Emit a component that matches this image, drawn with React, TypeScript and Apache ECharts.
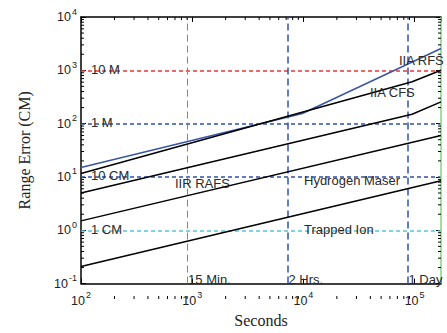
import React, { useEffect, useRef } from 'react';
import * as echarts from 'echarts';

const X_MIN = 100;
const X_MAX = 172800;
const Y_MIN = 0.1;
const Y_MAX = 10000;

const seriesNames = ['IIA RFS', 'IIA CFS', 'IIR RAFS', 'Hydrogen Maser', 'Trapped Ion'];
const iiaRfs = [[100, 15], [9800, 155], [172800, 2570]];
const iiaCfs = [[100, 11.6], [95000, 612], [172800, 1000]];
const iirRafs = [[100, 5.0], [95000, 150], [172800, 256]];
const hydrogenMaser = [[100, 1.5], [172800, 60]];
const trappedIon = [[100, 0.21], [172800, 8.5]];
const seriesData = [iiaRfs, iiaCfs, iirRafs, hydrogenMaser, trappedIon];
const seriesColors = ['#3a55a6', '#000000', '#000000', '#000000', '#000000'];
const seriesLabelPos = [[399, 60], [370, 92], [175, 183], [304, 180], [304, 229]];

const levelValues = [1000, 100, 10, 1];
const levelLabels = ['10 M', '1 M', '10 CM', '1 CM'];
const levelColors = ['#e8363b', '#3050a6', '#3050a6', '#55c6d6'];

const timeValues = [900, 7200, 86400];
const timeLabels = ['15 Min.', '2 Hrs.', '1 Day'];
const timeColors = ['#7085bd', '#3552a8', '#3552a8'];
const timeWidths = [1, 1.5, 1.5];
const edgeValue = 172800;

const GRID = { left: 81, top: 17, width: 360, height: 282 };
const SANS = '"Liberation Sans", Arial, sans-serif';
const SERIF = '"Liberation Serif", "Times New Roman", serif';

const fmt = (v: number) => {
  const l = Math.log10(v);
  const e = Math.round(l);
  if (Math.abs(l - e) > 1e-6) return '';
  return `{b|10}{s|${e}}`;
};

const rich = {
  b: { fontSize: 12.5, fontFamily: SANS, color: '#222', lineHeight: 20 },
  s: { fontSize: 9, fontFamily: SANS, color: '#222', verticalAlign: 'top', padding: [0, 0, 0, 1] },
};

export default function App() {
  const ref = useRef<HTMLDivElement>(null);
  useEffect(() => {
    if (!ref.current) return;
    const chart = echarts.init(ref.current, null, { renderer: 'svg' });
    const axisCommon = {
      type: 'log',
      logBase: 10,
      axisLine: { show: true, lineStyle: { color: '#000', width: 1.5 } },
      axisTick: { show: true, inside: true, length: 5, lineStyle: { color: '#000', width: 1 } },
      splitLine: { show: false },
    };
    const series: any[] = seriesData.map((d, i) => ({
      type: 'line',
      name: seriesNames[i],
      data: d,
      symbol: 'none',
      xAxisIndex: 0,
      yAxisIndex: 0,
      lineStyle: { color: seriesColors[i], width: 1.5 },
      z: 5,
    }));
    series.push({
      type: 'line',
      data: [],
      xAxisIndex: 0,
      yAxisIndex: 0,
      markLine: {
        silent: true,
        symbol: 'none',
        label: { show: false },
        data: [
          ...levelValues.map((v, i) => ({
            yAxis: v,
            lineStyle: { color: levelColors[i], type: [4, 3], width: 1.5 },
          })),
          ...timeValues.map((v, i) => ({
            xAxis: v,
            lineStyle: { color: timeColors[i], type: [7, 4], width: timeWidths[i] },
          })),
          { xAxis: edgeValue, lineStyle: { color: '#86d086', type: 'solid', width: 1.5 } },
        ],
      },
      z: 3,
    });
    chart.setOption({
      animation: false,
      grid: { ...GRID, containLabel: false },
      xAxis: [
        {
          ...axisCommon,
          min: X_MIN,
          max: X_MAX,
          position: 'bottom',
          name: 'Seconds',
          nameLocation: 'middle',
          nameGap: 16,
          nameTextStyle: { fontFamily: SERIF, fontSize: 16, color: '#222', verticalAlign: 'top' },
          axisLabel: { show: true, formatter: fmt, rich, margin: 7 },
        },
        {
          ...axisCommon,
          min: X_MIN,
          max: X_MAX,
          position: 'top',
          axisLabel: { show: false },
        },
      ],
      yAxis: [
        {
          ...axisCommon,
          min: Y_MIN,
          max: Y_MAX,
          position: 'left',
          name: 'Range Error (CM)',
          nameLocation: 'middle',
          nameGap: 49,
          nameTextStyle: { fontFamily: SERIF, fontSize: 16, color: '#222' },
          axisLabel: { show: true, formatter: fmt, rich, margin: 4 },
        },
        {
          ...axisCommon,
          min: Y_MIN,
          max: Y_MAX,
          position: 'right',
          axisLine: { show: false },
          axisLabel: { show: false },
        },
      ],
      series,
    });

    const g: any[] = [];
    const left = GRID.left;
    const right = GRID.left + GRID.width;
    const top = GRID.top;
    const bottom = GRID.top + GRID.height;
    const tickStyle = { stroke: '#000', lineWidth: 1 };
    for (let k = 2; k <= 5; k++) {
      for (let m = 2; m <= 9; m++) {
        const v = m * Math.pow(10, k);
        if (v > X_MAX) continue;
        const px = chart.convertToPixel({ xAxisIndex: 0 }, v) as number;
        g.push({ type: 'line', shape: { x1: px, y1: bottom, x2: px, y2: bottom - 3 }, style: tickStyle, z: 10 });
        g.push({ type: 'line', shape: { x1: px, y1: top, x2: px, y2: top + 3 }, style: tickStyle, z: 10 });
      }
    }
    for (let k = -1; k <= 3; k++) {
      for (let m = 2; m <= 9; m++) {
        const v = m * Math.pow(10, k);
        const py = chart.convertToPixel({ yAxisIndex: 0 }, v) as number;
        g.push({ type: 'line', shape: { x1: left, y1: py, x2: left + 3, y2: py }, style: tickStyle, z: 10 });
        g.push({ type: 'line', shape: { x1: right, y1: py, x2: right - 3, y2: py }, style: tickStyle, z: 10 });
      }
    }
    levelValues.forEach((v, i) => {
      const py = chart.convertToPixel({ yAxisIndex: 0 }, v) as number;
      g.push({
        type: 'text',
        x: left + 10,
        y: py - 1,
        z: 20,
        style: { text: levelLabels[i], fill: '#2a2a2a', font: `13px ${SANS}`, textAlign: 'left', textVerticalAlign: 'middle' },
      });
    });
    timeValues.forEach((v, i) => {
      const px = chart.convertToPixel({ xAxisIndex: 0 }, v) as number;
      g.push({
        type: 'text',
        x: px + 1,
        y: bottom - 20,
        z: 20,
        style: { text: timeLabels[i], fill: '#2a2a2a', font: `13px ${SANS}`, textAlign: 'left', textVerticalAlign: 'middle' },
      });
    });
    seriesNames.forEach((n, i) => {
      g.push({
        type: 'text',
        x: seriesLabelPos[i][0],
        y: seriesLabelPos[i][1],
        z: 20,
        style: { text: n, fill: '#2a2a2a', font: `13px ${SANS}`, textAlign: 'left', textVerticalAlign: 'middle' },
      });
    });
    chart.setOption({ graphic: g });

    return () => chart.dispose();
  }, []);
  return <div ref={ref} style={{ width: 447, height: 333, position: 'absolute', left: 0, top: 0 }} />;
}
